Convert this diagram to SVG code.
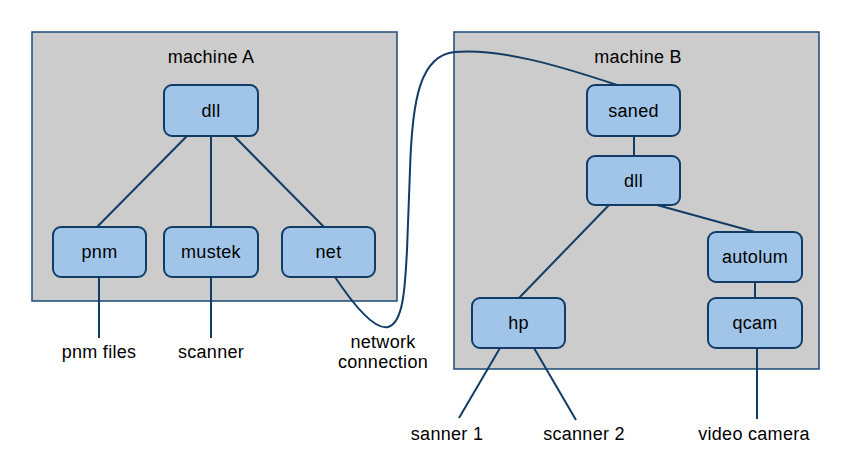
<svg xmlns="http://www.w3.org/2000/svg" width="857" height="463" viewBox="0 0 857 463">
<style>
.machine{fill:#cccccc;stroke:#1d4a78;stroke-width:1.5}
.node rect{fill:#a0c5e8;stroke:#123c66;stroke-width:2}
text{font-family:"Liberation Sans",Arial,sans-serif;font-size:18px;letter-spacing:0.3px;fill:#000;text-anchor:middle}
.edge{fill:none;stroke:#123c66;stroke-width:2}
</style>
<rect width="857" height="463" fill="#ffffff"/>
<g id="machineA"><rect class="machine" x="32" y="32" width="365" height="269"/><text x="211" y="63">machine A</text></g>
<g id="machineB"><rect class="machine" x="454" y="32" width="365" height="337"/><text x="638" y="63">machine B</text></g>
<g id="connectors">
<line class="edge" x1="187" y1="136" x2="97" y2="227"/>
<line class="edge" x1="211" y1="136" x2="211" y2="227"/>
<line class="edge" x1="234" y1="136" x2="324" y2="227"/>
<line class="edge" x1="99" y1="277" x2="99" y2="338"/>
<line class="edge" x1="211" y1="277" x2="211" y2="338"/>
<path class="edge" d="M335,277 C355,307 375,330 388,327 C403,323 405,290 407,250 L410,170 C412,100 420,55 455,52 C500,48 560,66 617,85"/>
<line class="edge" x1="634" y1="136" x2="634" y2="156"/>
<line class="edge" x1="609" y1="205" x2="519" y2="298"/>
<line class="edge" x1="657" y1="205" x2="755" y2="232"/>
<line class="edge" x1="755" y1="282" x2="755" y2="298"/>
<line class="edge" x1="500" y1="348" x2="459" y2="418"/>
<line class="edge" x1="534" y1="348" x2="576" y2="420"/>
<line class="edge" x1="757" y1="348" x2="757" y2="419"/>
</g>
<g id="dllA" class="node"><rect x="164" y="85" width="94" height="51" rx="8"/><text x="211" y="117">dll</text></g>
<g id="pnm" class="node"><rect x="53" y="227" width="93" height="50" rx="8"/><text x="99.5" y="258">pnm</text></g>
<g id="mustek" class="node"><rect x="164" y="227" width="94" height="50" rx="8"/><text x="211" y="258">mustek</text></g>
<g id="net" class="node"><rect x="282" y="227" width="93" height="50" rx="8"/><text x="328.5" y="258">net</text></g>
<g id="saned" class="node"><rect x="587" y="85" width="93" height="51" rx="8"/><text x="633.5" y="117">saned</text></g>
<g id="dllB" class="node"><rect x="587" y="156" width="93" height="49" rx="8"/><text x="633.5" y="187">dll</text></g>
<g id="autolum" class="node"><rect x="708" y="232" width="94" height="50" rx="8"/><text x="755" y="263">autolum</text></g>
<g id="qcam" class="node"><rect x="708" y="298" width="94" height="50" rx="8"/><text x="755" y="329">qcam</text></g>
<g id="hp" class="node"><rect x="472" y="298" width="93" height="50" rx="8"/><text x="518.5" y="329">hp</text></g>
<g id="labels">
<text x="99" y="358">pnm files</text>
<text x="211" y="358">scanner</text>
<text x="383" y="348">network</text>
<text x="383" y="368">connection</text>
<text x="447" y="440">sanner 1</text>
<text x="584" y="440">scanner 2</text>
<text x="754" y="440">video camera</text>
</g>
</svg>
